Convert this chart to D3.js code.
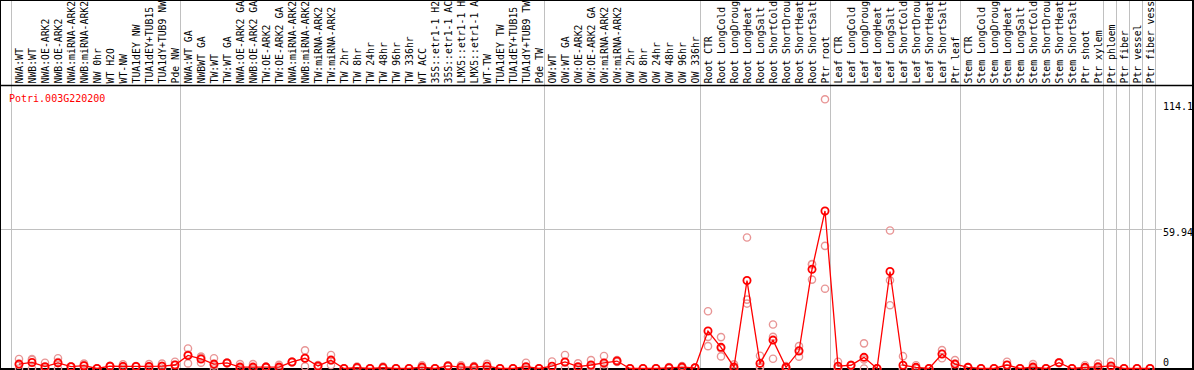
<!DOCTYPE html>
<html><head><meta charset="utf-8">
<script src="https://cdn.jsdelivr.net/npm/d3@7"></script>
<style>html,body{margin:0;padding:0;background:#fff;overflow:hidden}svg{display:block}</style>
</head><body><svg id="c" width="1194" height="370"></svg>
<script>
const geneId = "Potri.003G220200";

const categories = [
  "NWA:WT","NWB:WT","NWA:OE-ARK2","NWB:OE-ARK2","NWA:miRNA-ARK2","NWB:miRNA-ARK2","NW 0hr","WT H2O","WT-NW","TUA1dEY NW","TUA1dEY+TUB15","TUA1dY+TUB9 NW","Pde NW",
  "NWA:WT GA","NWBWT GA","TW:WT","TW:WT GA","NWA:OE-ARK2 GA","NWB:OE-ARK2 GA","TW:OE-ARK2","TW:OE-ARK2 GA","NWA:miRNA-ARK2","NWB:miRNA-ARK2","TW:miRNA-ARK2","TW:miRNA-ARK2","TW 2hr","TW 8hr","TW 24hr","TW 48hr","TW 96hr","TW 336hr","WT ACC","35S::etr1-1 H2","35S::etr1-1 AC","LMX5::etr1-1 H","LMX5::etr1-1 A","WT-TW","TUA1dEY TW","TUA1dEY+TUB15","TUA1dY+TUB9 TW","Pde TW",
  "OW:WT","OW:WT GA","OW:OE-ARK2","OW:OE-ARK2 GA","OW:miRNA-ARK2","OW:miRNA-ARK2","OW 2hr","OW 8hr","OW 24hr","OW 48hr","OW 96hr","OW 336hr",
  "Root CTR","Root LongCold","Root LongDroug","Root LongHeat","Root LongSalt","Root ShortCold","Root ShortDrou","Root ShortHeat","Root ShortSalt","Ptr root",
  "Leaf CTR","Leaf LongCold","Leaf LongDroug","Leaf LongHeat","Leaf LongSalt","Leaf ShortCold","Leaf ShortDrou","Leaf ShortHeat","Leaf ShortSalt","Ptr leaf",
  "Stem CTR","Stem LongCold","Stem LongDroug","Stem LongHeat","Stem LongSalt","Stem ShortCold","Stem ShortDrou","Stem ShortHeat","Stem ShortSalt","Ptr shoot","Ptr xylem",
  "Ptr phloem","Ptr fiber","Ptr vessel","Ptr fiber vess"
];

// start index of each sample group (last entry = end)
const groupStarts = [0, 13, 41, 53, 63, 73, 84, 85, 86, 87, 88];

const meanValues = [
  1.9,2.6,0.8,2.4,0.8,1.2,0,1.0,0.9,0.9,0.9,1.0,1.5,
  5.6,4.1,1.9,2.4,0.6,0.6,0.6,0.6,2.8,4.4,1.1,3.6,0,0.4,0,0.4,0,0,0.6,0,1.1,0.6,0.6,1.0,0,0,0.8,0,
  1.0,2.8,0.8,1.5,2.4,3.2,0,0,0,0.3,0.6,0.3,
  16.1,9.1,0.6,37.8,2.2,12.2,0.5,7.5,42.6,67.7,
  1.0,1.4,4.8,0,41.7,1.4,0.5,0,6.2,1.9,
  0.5,0,0,1.5,0,0.6,0,2.5,0,0.5,0.7,
  1.1,0,0,0
];

const replicateValues = [
  [4.1,1.6,0],[4.1,3.7,0],[2.5,0,0],[4.4,2.8,0],[0.9,0.8,0.7],[2.1,1.5,0],[0,0,0],[1.2,1.0,0.8],[1.8,0.9,0],[1.0,0.9,0.8],[1.9,0.8,0],[2.1,1.2,0],[2.9,1.6,0],
  [8.6,6.0,2.2],[5.1,4.7,2.5],[4.4,1.3,0],[2.6,2.4,2.2],[1.9,0,0],[1.9,0,0],[0.8,0.6,0.4],[1.6,0.2,0],[3.0,2.8,2.6],[7.8,4.5,0.9],[1.5,1.2,0.6],[5.8,3.5,1.5],[0,0,0],[0.8,0.4,0],[0,0,0],[0.8,0.4,0],[0,0,0],[0,0,0],[1.4,0.4,0],[0,0,0],[1.4,1.1,0.8],[1.4,0.4,0],[1.1,0.6,0.1],[2.0,1.0,0],[0,0,0],[0,0,0],[2.5,0,0],[0,0,0],
  [3.0,0,0],[5.8,2.6,0],[2.2,0.2,0],[3.6,0.9,0],[5.4,1.8,0],[3.6,3.2,2.8],[0,0,0],[0,0,0],[0,0,0],[0.6,0.3,0],[1.1,0.6,0.1],[0.3,0.3,0.3],
  [24.6,13.6,9.6],[13.5,8.6,5.2],[1.8,0,0],[56.3,29.6,27.9],[5.5,0.8,0.3],[18.9,13.6,4.2],[1.0,0.5,0],[9.6,7.8,5.1],[44.9,44.7,38.2],[115.7,52.7,34.3],
  [2.9,0.1,0],[1.6,1.4,1.2],[10.8,3.9,0],[0,0,0],[59.3,37.9,27.2],[5.3,0,0],[1.4,0,0],[0,0,0],[7.9,6.3,4.4],[3.6,2.0,0],
  [0.6,0.5,0.4],[0,0,0],[0,0,0],[2.9,1.5,0.1],[0,0,0],[1.9,0,0],[0,0,0],[2.7,2.5,2.3],[0,0,0],[1.4,0.1,0],[2.1,0,0],
  [2.9,0.4,0],[0,0,0],[0,0,0],[0,0,0]
];

const yTickValues = [114.1, 59.94, 0];

const W = 1194, H = 370;
const svg = d3.select("#c");
const FONT = "'DejaVu Sans Mono', 'Liberation Mono', monospace";

const x = d3.scaleLinear().domain([0, categories.length - 1]).range([19, 1150]);
const y = d3.scaleLinear().domain([0, 114.1]).range([368.5, 103]);

// horizontal gridline
svg.append("line").attr("x1", 0).attr("x2", 1162).attr("y1", Math.round(y(59.94)) + 0.5).attr("y2", Math.round(y(59.94)) + 0.5)
  .attr("stroke", "#c0c0c0").attr("stroke-width", 1);

// group separator lines
svg.append("g").selectAll("line").data(groupStarts).join("line")
  .attr("x1", d => x(d) - 7.5).attr("x2", d => x(d) - 7.5)
  .attr("y1", 0).attr("y2", 369)
  .attr("stroke", "#c0c0c0").attr("stroke-width", 1);

// frame
svg.append("line").attr("x1", 0).attr("x2", W).attr("y1", 0.5).attr("y2", 0.5).attr("stroke", "#000");
svg.append("line").attr("x1", 0.5).attr("x2", 0.5).attr("y1", 0).attr("y2", H).attr("stroke", "#000");
svg.append("line").attr("x1", 0).attr("x2", 1194).attr("y1", 85.5).attr("y2", 85.5).attr("stroke", "#000").attr("stroke-width", 1.5);
svg.append("line").attr("x1", 1193).attr("x2", 1193).attr("y1", 0).attr("y2", H).attr("stroke", "#000").attr("stroke-width", 2);
svg.append("line").attr("x1", 0).attr("x2", W).attr("y1", 369).attr("y2", 369).attr("stroke", "#000").attr("stroke-width", 2);

// category labels (rotated)
svg.append("g").selectAll("text").data(categories).join("text")
  .attr("transform", (d, i) => `translate(${x(i) + 3.5},83.5) rotate(-90)`)
  .attr("font-family", FONT).attr("font-size", 9.8).attr("fill", "#000")
  .text(d => d);

// title
svg.append("text").attr("x", 9).attr("y", 101.5).attr("font-family", FONT).attr("font-size", 10)
  .attr("fill", "#ff0000").text(geneId);

// y labels on right
svg.append("g").selectAll("text").data(yTickValues).join("text")
  .attr("x", 1163)
  .attr("y", d => Math.min(y(d) + 7.3, y(0) - 3))
  .attr("font-family", FONT).attr("font-size", 10).attr("fill", "#000")
  .text(d => String(d));

// replicate points
const reps = [];
replicateValues.forEach((arr, i) => arr.forEach(v => reps.push({i, v})));
svg.append("g").selectAll("circle").data(reps).join("circle")
  .attr("cx", d => x(d.i)).attr("cy", d => y(d.v)).attr("r", 3.6)
  .attr("fill", "none").attr("stroke", "#e89595").attr("stroke-width", 1.4);

// mean line
const line = d3.line().x((d, i) => x(i)).y(d => y(d));
svg.append("path").datum(meanValues).attr("d", line)
  .attr("fill", "none").attr("stroke", "#ff0000").attr("stroke-width", 1.3);

// mean points
svg.append("g").selectAll("circle").data(meanValues).join("circle")
  .attr("cx", (d, i) => x(i)).attr("cy", d => y(d)).attr("r", 3.6)
  .attr("fill", "none").attr("stroke", "#ff0000").attr("stroke-width", 1.8);
</script>
</body></html>
